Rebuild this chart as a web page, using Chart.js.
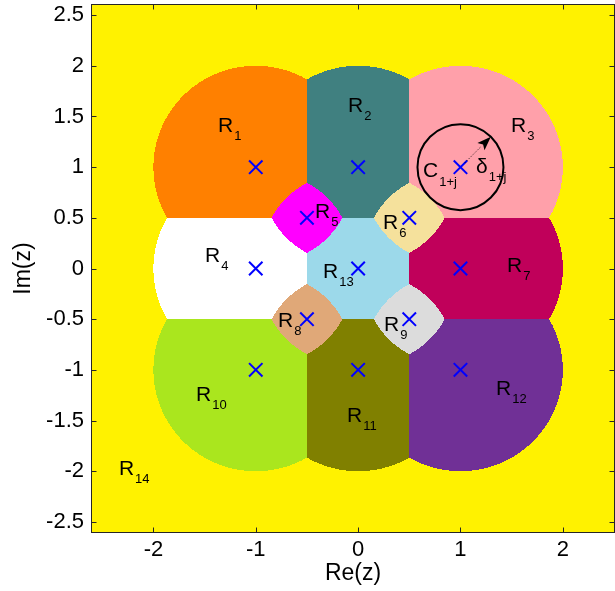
<!DOCTYPE html>
<html><head><meta charset="utf-8">
<script src="https://cdn.jsdelivr.net/npm/chart.js@4.4.0/dist/chart.umd.min.js"></script>
<style>html,body{margin:0;padding:0;background:#fff;}</style>
</head><body>
<canvas id="c" width="615" height="591"></canvas>
<script>
// ---- data ----
const regionNames = ['1','2','3','4','5','6','7','8','9','10','11','12','13','14'];
const pointRe = [-1, 0, 1, -1, -0.5, 0.5, 1, -0.5, 0.5, -1, 0, 1, 0];
const pointIm = [1, 1, 1, 0, 0.5, 0.5, 0, -0.5, -0.5, -1, -1, -1, 0];
const regionColors = ['#FF8000','#408080','#FFA0AA','#FFFFFF','#FF00FF','#F5E19C','#C0005A',
                      '#E0A878','#DCDCDC','#AAE61E','#808000','#703096','#9CD9EA','#FFF200'];
const labelRe = [-1.369,-0.098,1.494,-1.496,-0.421,0.243,1.455,-0.783,0.253,-1.584,-0.108,1.348,-0.343,-2.337];
const labelIm = [1.347,1.544,1.347,0.064,0.498,0.390,-0.035,-0.577,-0.617,-1.307,-1.515,-1.248,-0.094,-2.037];
const outerRadius = 1.0;     // radius of decision disks around lattice points
const innerRatio = 0.66;     // distance ratio bounding the half-lattice regions
const circleRe = 1, circleIm = 1, circleDelta = 0.42;
const cLabel = {re: 0.634, im: 0.903}, dLabel = {re: 1.152, im: 0.942};
const xTicks = [-2, -1, 0, 1, 2];
const yTicks = [-2.5, -2, -1.5, -1, -0.5, 0, 0.5, 1, 1.5, 2, 2.5];
const xRange = [-2.6, 2.5], yRange = [-2.6, 2.6];

const FONT = "'Liberation Sans', Arial, sans-serif";

function hexToRgb(h){ return [parseInt(h.slice(1,3),16),parseInt(h.slice(3,5),16),parseInt(h.slice(5,7),16)]; }

function classify(re, im){
  let best = -1, bd = Infinity;
  for (let i = 0; i < pointRe.length; i++){
    if (!Number.isInteger(pointRe[i])) continue;
    const d = Math.hypot(re - pointRe[i], im - pointIm[i]);
    if (d < bd){ bd = d; best = i; }
  }
  for (let i = 0; i < pointRe.length; i++){
    if (Number.isInteger(pointRe[i])) continue;
    const d = Math.hypot(re - pointRe[i], im - pointIm[i]);
    if (d < innerRatio * bd) return i;
  }
  if (bd <= outerRadius) return best;
  return 13;
}

const regionPlugin = {
  id: 'regions',
  beforeDatasetsDraw(chart){
    const {ctx, chartArea: a, scales: {x, y}} = chart;
    const L = Math.round(a.left), T = Math.round(a.top);
    const w = Math.round(a.right) - L, h = Math.round(a.bottom) - T;
    const img = ctx.createImageData(w, h);
    const rgb = regionColors.map(hexToRgb);
    for (let j = 0; j < h; j++){
      const im = y.getValueForPixel(T + j + 0.5);
      for (let i = 0; i < w; i++){
        const re = x.getValueForPixel(L + i + 0.5);
        const c = rgb[classify(re, im)];
        const o = (j * w + i) * 4;
        img.data[o] = c[0]; img.data[o+1] = c[1]; img.data[o+2] = c[2]; img.data[o+3] = 255;
      }
    }
    ctx.putImageData(img, L, T);
  },
  afterDatasetsDraw(chart){
    const {ctx, scales: {x, y}} = chart;
    ctx.save();
    ctx.fillStyle = '#000';
    ctx.textBaseline = 'alphabetic';
    ctx.textAlign = 'left';
    const sub = (main, s, re, im, dy) => {
      const px = x.getPixelForValue(re), py = y.getPixelForValue(im);
      ctx.font = '21px ' + FONT;
      ctx.fillText(main, px, py);
      const mw = ctx.measureText(main).width;
      ctx.font = '13px ' + FONT;
      ctx.fillText(s, px + mw + 1, py + dy);
    };
    for (let i = 0; i < regionNames.length; i++) sub('R', regionNames[i], labelRe[i], labelIm[i], 8);
    sub('C', '1+j', cLabel.re, cLabel.im, 9);
    sub('\u03B4', '1+j', dLabel.re, dLabel.im, 8);
    // circle C_{1+j}
    const cx = x.getPixelForValue(circleRe), cy = y.getPixelForValue(circleIm);
    const r = x.getPixelForValue(circleRe + circleDelta) - cx;
    ctx.lineWidth = 2; ctx.strokeStyle = '#000';
    ctx.beginPath(); ctx.arc(cx, cy, r, 0, Math.PI * 2); ctx.stroke();
    // dotted radius arrow at 45 degrees
    const ang = -Math.PI / 4;
    const tx = cx + r * Math.cos(ang), ty = cy + r * Math.sin(ang);
    const hl = 14, hw = 5;
    const bx = tx - hl * Math.cos(ang), by = ty - hl * Math.sin(ang);
    ctx.lineWidth = 1; ctx.setLineDash([1, 2]);
    ctx.beginPath(); ctx.moveTo(cx + 6 * Math.cos(ang), cy + 6 * Math.sin(ang)); ctx.lineTo(bx, by); ctx.stroke();
    ctx.setLineDash([]);
    const nx = -Math.sin(ang), ny = Math.cos(ang);
    ctx.beginPath();
    ctx.moveTo(tx, ty);
    ctx.lineTo(bx + nx * hw, by + ny * hw);
    ctx.lineTo(bx + 3 * Math.cos(ang), by + 3 * Math.sin(ang));
    ctx.lineTo(bx - nx * hw, by - ny * hw);
    ctx.closePath(); ctx.fill();
    ctx.restore();
  },
  afterDraw(chart){
    const {ctx, chartArea: a, scales: {x, y}} = chart;
    ctx.save();
    ctx.strokeStyle = '#262626'; ctx.lineWidth = 1;
    const L = Math.round(a.left) - 0.5, R = Math.round(a.right) + 0.5;
    const T = Math.round(a.top) - 0.5, B = Math.round(a.bottom) + 0.5;
    ctx.beginPath();
    for (const v of xTicks){
      const p = Math.round(x.getPixelForValue(v)) + 0.5;
      ctx.moveTo(p, B); ctx.lineTo(p, B - 5);
      ctx.moveTo(p, T); ctx.lineTo(p, T + 5);
    }
    for (const v of yTicks){
      const p = Math.round(y.getPixelForValue(v)) + 0.5;
      ctx.moveTo(L, p); ctx.lineTo(L + 5, p);
      ctx.moveTo(R, p); ctx.lineTo(R - 5, p);
    }
    ctx.stroke();
    ctx.strokeRect(L, T, R - L, B - T);
    ctx.restore();
  }
};

const noPad = s => { s.paddingLeft = 0; s.paddingRight = 0; s.paddingTop = 0; s.paddingBottom = 0; };

new Chart(document.getElementById('c'), {
  type: 'scatter',
  data: {
    datasets: [{
      data: pointRe.map((re, i) => ({x: re, y: pointIm[i]})),
      pointStyle: 'crossRot',
      radius: 9.5,
      hoverRadius: 9.5,
      borderColor: '#0000FF',
      backgroundColor: '#0000FF',
      borderWidth: 2
    }]
  },
  options: {
    responsive: false,
    devicePixelRatio: 1,
    animation: false,
    layout: {autoPadding: false, padding: {top: 5, right: 1, left: 0, bottom: 0}},
    plugins: {legend: {display: false}, tooltip: {enabled: false}},
    scales: {
      x: {
        type: 'linear', min: xRange[0], max: xRange[1],
        afterBuildTicks: s => { s.ticks = xTicks.map(v => ({value: v})); },
        afterFit: s => { s.height = 59; noPad(s); },
        grid: {display: false, drawTicks: false},
        border: {display: false},
        ticks: {padding: 5, color: '#000', font: {family: FONT, size: 22}, callback: v => String(v), maxRotation: 0},
        title: {display: true, text: 'Re(z)', color: '#000', font: {family: FONT, size: 23}, padding: {top: 0, bottom: 4}}
      },
      y: {
        type: 'linear', min: yRange[0], max: yRange[1],
        afterBuildTicks: s => { s.ticks = yTicks.map(v => ({value: v})); },
        afterFit: s => { s.width = 92; noPad(s); },
        grid: {display: false, drawTicks: false},
        border: {display: false},
        ticks: {padding: 8, color: '#000', font: {family: FONT, size: 22}, callback: v => String(v)},
        title: {display: true, text: 'Im(z)', color: '#000', font: {family: FONT, size: 23}, padding: {top: 10, bottom: 0}}
      }
    }
  },
  plugins: [regionPlugin]
});
</script>
</body></html>
